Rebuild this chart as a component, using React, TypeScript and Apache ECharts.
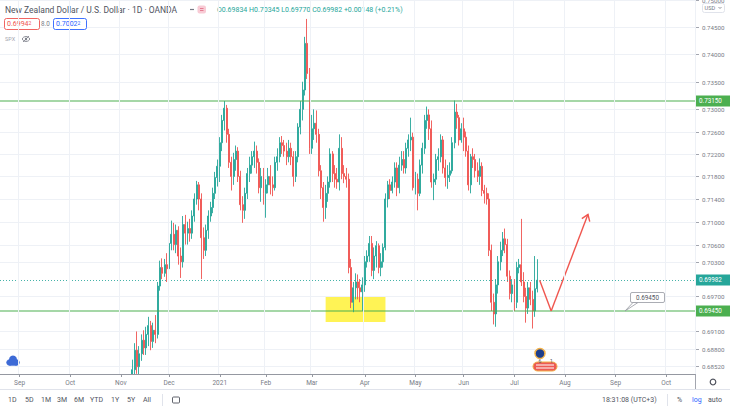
import React, { useEffect, useRef } from "react";
import * as echarts from "echarts";

const FONT = 'Roboto, "Noto Sans", "DejaVu Sans", sans-serif';
const UP = "#26a69a";
const DOWN = "#ef5350";
const LEVEL_GREEN = "#4caf50";
const AXIS_TEXT = "#787b86";
const DARK_TEXT = "#50535e";

// ---- time axis (daily bars, weekends and market holidays skipped) ----
const AXIS_FIRST_DAY = "2020-08-20";
const AXIS_LAST_DAY = "2021-10-19";
const MARKET_HOLIDAYS = ["2020-12-25", "2021-01-01"];
const MONTH_NAMES = ["Jan", "Feb", "Mar", "Apr", "May", "Jun", "Jul", "Aug", "Sep", "Oct", "Nov", "Dec"];

// ---- NZD/USD daily candles: [open, close, low, high], first bar on FIRST_CANDLE_DAY ----
const FIRST_CANDLE_DAY = "2020-11-04";
const candleOHLC: number[][] = [
  // Nov 2020
  [0.6640, 0.6720, 0.6620, 0.6745], [0.6720, 0.6760, 0.6700, 0.6790], [0.6760, 0.6772, 0.6745, 0.6800],
  [0.6772, 0.6845, 0.6760, 0.6862], [0.6845, 0.6878, 0.6825, 0.6890], [0.6878, 0.6850, 0.6838, 0.6910],
  [0.6850, 0.6872, 0.6835, 0.6885], [0.6872, 0.6895, 0.6860, 0.6905], [0.6895, 0.6882, 0.6870, 0.6912],
  [0.6882, 0.6905, 0.6870, 0.6918], [0.6905, 0.6920, 0.6885, 0.6935], [0.6920, 0.6893, 0.6878, 0.6928],
  [0.6893, 0.6912, 0.6882, 0.6925], [0.6912, 0.6905, 0.6890, 0.6938], [0.6905, 0.6988, 0.6898, 0.6995],
  [0.6988, 0.7020, 0.6980, 0.7032], [0.7020, 0.7010, 0.7000, 0.7036], [0.7010, 0.7025, 0.7004, 0.7035],
  [0.7025, 0.7018, 0.6995, 0.7045],
  // Dec 2020
  [0.7018, 0.7062, 0.7012, 0.7070], [0.7062, 0.7078, 0.7050, 0.7102], [0.7078, 0.7060, 0.7050, 0.7098],
  [0.7060, 0.7085, 0.7045, 0.7095], [0.7085, 0.7040, 0.7025, 0.7092], [0.7040, 0.7030, 0.7002, 0.7055],
  [0.7030, 0.7095, 0.7020, 0.7110], [0.7095, 0.7080, 0.7060, 0.7112], [0.7080, 0.7088, 0.7060, 0.7100],
  [0.7088, 0.7080, 0.7065, 0.7105], [0.7080, 0.7110, 0.7070, 0.7120], [0.7110, 0.7140, 0.7100, 0.7150],
  [0.7140, 0.7165, 0.7130, 0.7172], [0.7165, 0.7140, 0.7120, 0.7170], [0.7140, 0.7072, 0.7000, 0.7150],
  [0.7072, 0.7050, 0.7035, 0.7090], [0.7050, 0.7085, 0.7040, 0.7095], [0.7085, 0.7110, 0.7070, 0.7120],
  [0.7110, 0.7125, 0.7100, 0.7135], [0.7125, 0.7150, 0.7115, 0.7160], [0.7150, 0.7178, 0.7140, 0.7188],
  [0.7178, 0.7198, 0.7162, 0.7210],
  // Jan 2021
  [0.7198, 0.7240, 0.7170, 0.7250], [0.7240, 0.7280, 0.7225, 0.7290], [0.7280, 0.7302, 0.7262, 0.7315],
  [0.7302, 0.7255, 0.7240, 0.7308], [0.7255, 0.7205, 0.7195, 0.7265], [0.7205, 0.7180, 0.7155, 0.7215],
  [0.7180, 0.7210, 0.7165, 0.7222], [0.7210, 0.7225, 0.7190, 0.7235], [0.7225, 0.7180, 0.7170, 0.7232],
  [0.7180, 0.7130, 0.7120, 0.7190], [0.7130, 0.7120, 0.7098, 0.7145], [0.7120, 0.7150, 0.7105, 0.7160],
  [0.7150, 0.7185, 0.7140, 0.7195], [0.7185, 0.7200, 0.7170, 0.7215], [0.7200, 0.7215, 0.7185, 0.7225],
  [0.7215, 0.7225, 0.7195, 0.7242], [0.7225, 0.7205, 0.7185, 0.7235], [0.7205, 0.7160, 0.7150, 0.7212],
  [0.7160, 0.7180, 0.7135, 0.7195], [0.7180, 0.7150, 0.7130, 0.7195],
  // Feb 2021
  [0.7150, 0.7165, 0.7107, 0.7175], [0.7165, 0.7180, 0.7150, 0.7195], [0.7180, 0.7165, 0.7148, 0.7200],
  [0.7165, 0.7160, 0.7145, 0.7180], [0.7160, 0.7205, 0.7155, 0.7215], [0.7205, 0.7215, 0.7190, 0.7230],
  [0.7215, 0.7240, 0.7205, 0.7250], [0.7240, 0.7235, 0.7220, 0.7252], [0.7235, 0.7225, 0.7215, 0.7245],
  [0.7225, 0.7215, 0.7200, 0.7240], [0.7215, 0.7230, 0.7205, 0.7245], [0.7230, 0.7215, 0.7200, 0.7240],
  [0.7215, 0.7180, 0.7162, 0.7225], [0.7180, 0.7215, 0.7170, 0.7225], [0.7215, 0.7268, 0.7205, 0.7275],
  [0.7268, 0.7300, 0.7255, 0.7315], [0.7300, 0.7335, 0.7280, 0.7350], [0.7335, 0.7420, 0.7325, 0.7432],
  [0.7420, 0.7365, 0.7355, 0.7465], [0.7365, 0.7230, 0.7220, 0.7375],
  // Mar 2021
  [0.7230, 0.7265, 0.7220, 0.7290], [0.7265, 0.7275, 0.7245, 0.7300], [0.7275, 0.7255, 0.7240, 0.7298],
  [0.7255, 0.7190, 0.7180, 0.7265], [0.7190, 0.7160, 0.7140, 0.7200], [0.7160, 0.7125, 0.7100, 0.7170],
  [0.7125, 0.7150, 0.7105, 0.7165], [0.7150, 0.7170, 0.7135, 0.7180], [0.7170, 0.7220, 0.7160, 0.7230],
  [0.7220, 0.7185, 0.7170, 0.7225], [0.7185, 0.7175, 0.7160, 0.7200], [0.7175, 0.7170, 0.7158, 0.7195],
  [0.7170, 0.7230, 0.7155, 0.7255], [0.7230, 0.7185, 0.7175, 0.7250], [0.7185, 0.7180, 0.7168, 0.7200],
  [0.7180, 0.7175, 0.7160, 0.7195], [0.7175, 0.7020, 0.7010, 0.7185], [0.7020, 0.6960, 0.6950, 0.7035],
  [0.6960, 0.6985, 0.6943, 0.6995], [0.6985, 0.6995, 0.6965, 0.7010], [0.6995, 0.6985, 0.6965, 0.7008],
  [0.6985, 0.6978, 0.6960, 0.7000], [0.6978, 0.6990, 0.6945, 0.7003],
  // Apr 2021
  [0.6990, 0.7030, 0.6978, 0.7040], [0.7030, 0.7040, 0.7020, 0.7050], [0.7040, 0.7062, 0.7030, 0.7075],
  [0.7062, 0.7015, 0.7005, 0.7075], [0.7015, 0.7040, 0.7000, 0.7055], [0.7040, 0.7058, 0.7020, 0.7066],
  [0.7058, 0.7020, 0.7010, 0.7062], [0.7020, 0.7030, 0.7005, 0.7045], [0.7030, 0.7055, 0.7020, 0.7062],
  [0.7055, 0.7140, 0.7050, 0.7150], [0.7140, 0.7165, 0.7125, 0.7172], [0.7165, 0.7155, 0.7140, 0.7175],
  [0.7155, 0.7170, 0.7150, 0.7180], [0.7170, 0.7195, 0.7160, 0.7205], [0.7195, 0.7160, 0.7145, 0.7205],
  [0.7160, 0.7200, 0.7150, 0.7215], [0.7200, 0.7210, 0.7190, 0.7225], [0.7210, 0.7195, 0.7185, 0.7225],
  [0.7195, 0.7230, 0.7185, 0.7240], [0.7230, 0.7245, 0.7215, 0.7255], [0.7245, 0.7250, 0.7225, 0.7285],
  [0.7250, 0.7160, 0.7155, 0.7258],
  // May 2021
  [0.7160, 0.7175, 0.7148, 0.7188], [0.7175, 0.7150, 0.7120, 0.7185], [0.7150, 0.7200, 0.7145, 0.7210],
  [0.7200, 0.7230, 0.7185, 0.7240], [0.7230, 0.7280, 0.7220, 0.7290], [0.7280, 0.7290, 0.7265, 0.7305],
  [0.7290, 0.7265, 0.7245, 0.7300], [0.7265, 0.7170, 0.7160, 0.7280], [0.7170, 0.7175, 0.7138, 0.7185],
  [0.7175, 0.7210, 0.7165, 0.7220], [0.7210, 0.7215, 0.7190, 0.7230], [0.7215, 0.7245, 0.7205, 0.7255],
  [0.7245, 0.7195, 0.7185, 0.7252], [0.7195, 0.7178, 0.7162, 0.7210], [0.7178, 0.7182, 0.7158, 0.7200],
  [0.7182, 0.7190, 0.7170, 0.7205], [0.7190, 0.7240, 0.7185, 0.7250], [0.7240, 0.7295, 0.7230, 0.7316],
  [0.7295, 0.7285, 0.7265, 0.7310], [0.7285, 0.7245, 0.7235, 0.7290], [0.7245, 0.7265, 0.7240, 0.7275],
  // Jun 2021
  [0.7265, 0.7250, 0.7225, 0.7285], [0.7250, 0.7225, 0.7215, 0.7260], [0.7225, 0.7165, 0.7155, 0.7235],
  [0.7165, 0.7215, 0.7150, 0.7220], [0.7215, 0.7210, 0.7195, 0.7230], [0.7210, 0.7190, 0.7178, 0.7220],
  [0.7190, 0.7180, 0.7170, 0.7205], [0.7180, 0.7198, 0.7165, 0.7212], [0.7198, 0.7155, 0.7145, 0.7205],
  [0.7155, 0.7150, 0.7132, 0.7165], [0.7150, 0.7140, 0.7130, 0.7160], [0.7140, 0.7050, 0.7040, 0.7150],
  [0.7050, 0.6960, 0.6945, 0.7060], [0.6960, 0.6940, 0.6922, 0.6975], [0.6940, 0.6990, 0.6918, 0.7000],
  [0.6990, 0.7030, 0.6975, 0.7040], [0.7030, 0.7050, 0.7015, 0.7065], [0.7050, 0.7070, 0.7040, 0.7082],
  [0.7070, 0.7060, 0.7045, 0.7088], [0.7060, 0.7005, 0.6995, 0.7070], [0.7005, 0.6975, 0.6965, 0.7015],
  [0.6975, 0.6990, 0.6960, 0.7000],
  // Jul 2021
  [0.6990, 0.6960, 0.6945, 0.7000], [0.6960, 0.7020, 0.6950, 0.7030], [0.7020, 0.7025, 0.7010, 0.7035],
  [0.7025, 0.6995, 0.6988, 0.7105], [0.6995, 0.6970, 0.6960, 0.7012], [0.6970, 0.6950, 0.6925, 0.6985],
  [0.6950, 0.6985, 0.6940, 0.6995], [0.6985, 0.6965, 0.6955, 0.6995], [0.6965, 0.6945, 0.6915, 0.6980],
  [0.6945, 0.69834, 0.6935, 0.7040], [0.69834, 0.69982, 0.6977, 0.70345],
];

// ---- price scale ----
const PRICE_MIN = 0.68377;
const PRICE_MAX = 0.75;
const PRICE_TICKS = [0.75, 0.745, 0.74, 0.735, 0.73, 0.726, 0.722, 0.718, 0.714, 0.71, 0.706, 0.703, 0.697, 0.691, 0.688, 0.6852];
const KEY_LEVELS = [0.7315, 0.6945];
const LAST_PRICE = 0.69982;

// ---- drawings ----
const ZONE_DAYS = ["2021-03-09", "2021-04-14"];
const ZONE_PRICES = [0.6971, 0.6926];
const ARROW_DAYS = ["2021-07-16", "2021-07-23", "2021-08-16"];
const ARROW_PRICES = [0.6998, 0.6945, 0.7113];
const CALLOUT_DAY = "2021-09-07";
const CALLOUT_PRICE = 0.6945;

// ---- texts ----
const TITLE = "New Zealand Dollar / U.S. Dollar · 1D · OANDA";
const HEADER_OHLC = "O0.69834 H0.70345 L0.69770 C0.69982 +0.00148 (+0.21%)";
const BID = ["0.6994", "2"];
const SPREAD = "8.0";
const ASK = ["0.7002", "2"];
const RANGE_BUTTONS = ["1D", "5D", "1M", "3M", "6M", "YTD", "1Y", "5Y", "All"];
const RANGE_X = [8, 25, 41, 57, 74, 90, 111, 127, 143];
const CLOCK = "18:31:08 (UTC+3)";

function buildTradingDays(): string[] {
  const out: string[] = [];
  const [y0, m0, d0] = AXIS_FIRST_DAY.split("-").map(Number);
  const d = new Date(Date.UTC(y0, m0 - 1, d0));
  const [y1, m1, d1] = AXIS_LAST_DAY.split("-").map(Number);
  const end = Date.UTC(y1, m1 - 1, d1);
  while (d.getTime() <= end) {
    const wd = d.getUTCDay();
    const s = d.toISOString().slice(0, 10);
    if (wd !== 0 && wd !== 6 && MARKET_HOLIDAYS.indexOf(s) < 0) out.push(s);
    d.setUTCDate(d.getUTCDate() + 1);
  }
  return out;
}

const crisp = (v: number) => Math.round(v) + 0.5;

function txt(x: number, y: number, text: string, fill: string, size: number, extra: any = {}) {
  return {
    type: "text",
    x,
    y,
    z: 16,
    silent: true,
    style: { text, fill, fontSize: size, fontFamily: FONT, verticalAlign: "middle", align: "left", ...extra },
  };
}

function el(type: string, shape: any, style: any) {
  return { type, shape, style, z: 16, silent: true };
}

function buildOption() {
  const days = buildTradingDays();
  const firstIdx = days.indexOf(FIRST_CANDLE_DAY);
  const candleData = candleOHLC.map((v, k) => [firstIdx + k, v[0], v[1], v[2], v[3]]);
  const monthStart = new Set<number>();
  days.forEach((d, i) => {
    if (i > 0 && d.slice(0, 7) !== days[i - 1].slice(0, 7)) monthStart.add(i);
  });
  const isMonthStart = (i: number) => monthStart.has(i);
  const monthLabel = (d: string) => {
    const m = +d.slice(5, 7);
    return m === 1 ? d.slice(0, 4) : MONTH_NAMES[m - 1];
  };

  const priceScaleSeries = {
    type: "custom",
    name: "priceScale",
    silent: true,
    z: 1,
    data: PRICE_TICKS.map((p) => [0, p]),
    encode: { x: 0, y: 1 },
    renderItem: (params: any, api: any) => {
      const cs = params.coordSys;
      const p = api.value(1) as number;
      const y = crisp(api.coord([0, p])[1]);
      const right = cs.x + cs.width;
      return {
        type: "group",
        children: [
          { type: "line", shape: { x1: cs.x, y1: y, x2: right, y2: y }, style: { stroke: "#eef1f6", lineWidth: 1 } },
          { type: "line", shape: { x1: right, y1: y, x2: right + 4, y2: y }, style: { stroke: "#a3a6af", lineWidth: 1 } },
          {
            type: "text",
            x: right + 7,
            y,
            style: { text: p.toFixed(5), fill: AXIS_TEXT, fontSize: 6.2, fontFamily: FONT, verticalAlign: "middle", align: "left" },
          },
        ],
      };
    },
  };

  // horizontal level across the pane plus its coloured badge on the price scale
  const levelLine = (color: string, dashed: boolean) => (params: any, api: any) => {
    const cs = params.coordSys;
    const p = api.value(1) as number;
    const yRaw = api.coord([0, p])[1];
    const y = dashed ? crisp(yRaw) : Math.round(yRaw);
    const right = cs.x + cs.width;
    const lineStyle: any = dashed
      ? { stroke: color, lineWidth: 1, lineDash: [1, 2], opacity: 0.85 }
      : { stroke: color, lineWidth: 1.2 };
    return {
      type: "group",
      children: [
        { type: "line", shape: { x1: cs.x, y1: y, x2: right, y2: y }, style: lineStyle },
        { type: "rect", shape: { x: right + 1, y: Math.round(yRaw) - 5.5, width: 34, height: 11 }, style: { fill: color } },
        {
          type: "text",
          x: right + 4,
          y: Math.round(yRaw),
          style: { text: p.toFixed(5), fill: "#ffffff", fontSize: 6.3, fontFamily: FONT, verticalAlign: "middle", align: "left" },
        },
      ],
    };
  };

  const arrowSeries = {
    type: "custom",
    name: "arrow",
    silent: true,
    z: 5,
    data: ARROW_DAYS.map((d, i) => [days.indexOf(d), ARROW_PRICES[i]]),
    encode: { x: 0, y: 1 },
    renderItem: (params: any, api: any) => {
      const i = params.dataIndex;
      if (i === 0) return null;
      const p1 = api.coord([days.indexOf(ARROW_DAYS[i - 1]), ARROW_PRICES[i - 1]]);
      const p2 = api.coord([api.value(0), api.value(1)]);
      const children: any[] = [
        { type: "line", shape: { x1: p1[0], y1: p1[1], x2: p2[0], y2: p2[1] }, style: { stroke: "#f0564f", lineWidth: 1.4 } },
      ];
      if (i === ARROW_DAYS.length - 1) {
        const dx = p2[0] - p1[0];
        const dy = p2[1] - p1[1];
        const len = Math.sqrt(dx * dx + dy * dy);
        const ux = -dx / len;
        const uy = -dy / len;
        const arm = (ang: number) => {
          const c = Math.cos(ang);
          const s = Math.sin(ang);
          return [p2[0] + 7.5 * (ux * c - uy * s), p2[1] + 7.5 * (ux * s + uy * c)];
        };
        children.push({
          type: "polyline",
          shape: { points: [arm(0.6), [p2[0], p2[1]], arm(-0.6)] },
          style: { stroke: "#f0564f", lineWidth: 1.4, fill: "none" },
        });
      }
      return { type: "group", children };
    },
  };

  const calloutSeries = {
    type: "custom",
    name: "callout",
    silent: true,
    z: 5,
    data: [[days.indexOf(CALLOUT_DAY), CALLOUT_PRICE]],
    encode: { x: 0, y: 1 },
    renderItem: (params: any, api: any) => {
      const pt = api.coord([api.value(0), api.value(1)]);
      const x = Math.round(pt[0]);
      const y = Math.round(pt[1]);
      return {
        type: "group",
        children: [
          {
            type: "polygon",
            shape: { points: [[x, y], [x + 8, y - 8.5], [x + 13, y - 8.5]] },
            style: { fill: "#ffffff", stroke: "#9598a1", lineWidth: 0.8 },
          },
          {
            type: "rect",
            shape: { x: x + 5.5, y: y - 18.5, width: 34, height: 10, r: 1.5 },
            style: { fill: "#ffffff", stroke: "#9598a1", lineWidth: 0.8 },
          },
          {
            type: "text",
            x: x + 22.5,
            y: y - 13.5,
            style: {
              text: CALLOUT_PRICE.toFixed(5),
              fill: DARK_TEXT,
              fontSize: 6.3,
              fontFamily: FONT,
              verticalAlign: "middle",
              align: "center",
            },
          },
        ],
      };
    },
  };

  const graphic: any[] = [
    // mask under the time axis so the price pane is cut at its bottom edge
    { type: "rect", z: 15, silent: true, shape: { x: 0, y: 374.5, width: 695, height: 36 }, style: { fill: "#ffffff" } },
    // header
    txt(5, 9.5, TITLE, DARK_TEXT, 8.5),
    el("line", { x1: 190, y1: 9.5, x2: 194, y2: 9.5 }, { stroke: AXIS_TEXT, lineWidth: 1.2 }),
    el("rect", { x: 197.5, y: 5.5, width: 8.5, height: 8, r: 2 }, { fill: "#f8cbd5" }),
    el("rect", { x: 200, y: 8, width: 3.5, height: 0.8 }, { fill: "#e06a83" }),
    el("rect", { x: 200, y: 10.2, width: 3.5, height: 0.8 }, { fill: "#e06a83" }),
    txt(217, 9.5, HEADER_OHLC, UP, 7),
    // bid / spread / ask
    el("rect", { x: 4.5, y: 18.5, width: 35, height: 11, r: 2 }, { fill: "#fff", stroke: DOWN, lineWidth: 0.9 }),
    {
      type: "text",
      x: 7,
      y: 24,
      z: 16,
      silent: true,
      style: {
        text: `{a|${BID[0]}}{b|${BID[1]}}`,
        fontFamily: FONT,
        verticalAlign: "middle",
        rich: { a: { fontSize: 7, fill: DOWN, fontFamily: FONT }, b: { fontSize: 5, fill: DOWN, fontFamily: FONT, padding: [0, 0, 3, 0] } },
      },
    },
    txt(41, 24, SPREAD, AXIS_TEXT, 6.3),
    el("rect", { x: 53.5, y: 18.5, width: 33, height: 11, r: 2 }, { fill: "#fff", stroke: "#2962ff", lineWidth: 0.9 }),
    {
      type: "text",
      x: 56,
      y: 24,
      z: 16,
      silent: true,
      style: {
        text: `{a|${ASK[0]}}{b|${ASK[1]}}`,
        fontFamily: FONT,
        verticalAlign: "middle",
        rich: { a: { fontSize: 7, fill: "#2962ff", fontFamily: FONT }, b: { fontSize: 5, fill: "#2962ff", fontFamily: FONT, padding: [0, 0, 3, 0] } },
      },
    },
    txt(5, 39, "SPX", "#a3a6af", 5.5),
    el("ellipse", { cx: 26, cy: 39, rx: 3.6, ry: 2.4 }, { fill: "none", stroke: AXIS_TEXT, lineWidth: 0.9 }),
    el("circle", { cx: 26, cy: 39, r: 1.2 }, { fill: AXIS_TEXT }),
    el("line", { x1: 23, y1: 42, x2: 29, y2: 36 }, { stroke: AXIS_TEXT, lineWidth: 0.8 }),
    // currency selector
    el("rect", { x: 702.5, y: 3.5, width: 22, height: 9, r: 2 }, { fill: "#fff", stroke: "#e0e3eb", lineWidth: 1 }),
    txt(704.5, 8, "USD", AXIS_TEXT, 5.6),
    el("polyline", { points: [[718.5, 7], [720, 8.5], [721.5, 7]] }, { stroke: AXIS_TEXT, lineWidth: 0.8, fill: "none" }),
    // logo cloud icon
    el("circle", { cx: 9.5, cy: 362.5, r: 3.2 }, { fill: "#3d6ad6" }),
    el("circle", { cx: 13, cy: 359.5, r: 4 }, { fill: "#3d6ad6" }),
    el("circle", { cx: 16.5, cy: 362.5, r: 3.2 }, { fill: "#3d6ad6" }),
    el("rect", { x: 9.5, y: 361, width: 7, height: 4.7 }, { fill: "#3d6ad6" }),
    // event flags
    el("circle", { cx: 540, cy: 353.5, r: 5 }, { fill: "#1f3f8c", stroke: "#f2b24a", lineWidth: 1.5 }),
    el("rect", { x: 533, y: 362, width: 24, height: 9, r: 4.5 }, { fill: "#ec5a55", stroke: "#f2b24a", lineWidth: 1 }),
    el("rect", { x: 536, y: 364.5, width: 18, height: 1 }, { fill: "#ffffff" }),
    el("rect", { x: 536, y: 367.5, width: 18, height: 1 }, { fill: "#ffffff" }),
    txt(538.5, 361, "6", DARK_TEXT, 5),
    txt(550, 361, "1", DARK_TEXT, 5),
    // axis-area separators
    el("line", { x1: 695.5, y1: 374, x2: 695.5, y2: 389.5 }, { stroke: "#a3a6af", lineWidth: 1 }),
    el("line", { x1: 0, y1: 389.5, x2: 730, y2: 389.5 }, { stroke: "#e0e3eb", lineWidth: 1 }),
    el("circle", { cx: 713, cy: 382, r: 2.8 }, { fill: "none", stroke: DARK_TEXT, lineWidth: 1.2 }),
    // bottom toolbar
    ...RANGE_BUTTONS.map((b, i) => txt(RANGE_X[i], 400, b, DARK_TEXT, 7)),
    el("line", { x1: 162.5, y1: 394, x2: 162.5, y2: 406 }, { stroke: "#e0e3eb", lineWidth: 1 }),
    el("rect", { x: 172.5, y: 397, width: 7, height: 6, r: 1 }, { fill: "none", stroke: DARK_TEXT, lineWidth: 0.9 }),
    txt(602, 400, CLOCK, DARK_TEXT, 7),
    el("line", { x1: 667.5, y1: 394, x2: 667.5, y2: 406 }, { stroke: "#e0e3eb", lineWidth: 1 }),
    txt(677, 400, "%", DARK_TEXT, 7),
    txt(692, 400, "log", "#2962ff", 7),
    txt(708, 400, "auto", DARK_TEXT, 7),
  ];

  return {
    animation: false,
    backgroundColor: "#ffffff",
    textStyle: { fontFamily: FONT },
    grid: { left: 0, right: 35, top: 0, bottom: 36 },
    xAxis: {
      type: "category",
      data: days,
      boundaryGap: true,
      z: 20,
      axisLine: { lineStyle: { color: "#9598a1", width: 1 } },
      axisTick: { show: true, alignWithLabel: true, interval: (i: number) => isMonthStart(i), length: 3, lineStyle: { color: "#9598a1" } },
      axisLabel: {
        interval: (i: number) => isMonthStart(i),
        formatter: (v: string) => monthLabel(v),
        color: AXIS_TEXT,
        fontSize: 6.5,
        fontFamily: FONT,
        margin: 5,
      },
      splitLine: { show: true, interval: (i: number) => isMonthStart(i), lineStyle: { color: "#eef1f6", width: 1 } },
    },
    yAxis: {
      type: "log",
      logBase: 10,
      min: PRICE_MIN,
      max: PRICE_MAX,
      position: "right",
      axisLine: { show: true, lineStyle: { color: "#a3a6af" } },
      axisTick: { show: false },
      axisLabel: { show: false },
      splitLine: { show: false },
    },
    graphic,
    series: [
      priceScaleSeries,
      {
        type: "candlestick",
        name: "NZDUSD",
        z: 2,
        barWidth: 1.5,
        clip: true,
        data: candleData,
        encode: { x: 0, y: [1, 2, 3, 4] },
        itemStyle: { color: UP, color0: DOWN, borderColor: UP, borderColor0: DOWN, borderWidth: 0.9 },
        markArea: {
          silent: true,
          itemStyle: { color: "rgba(255, 238, 20, 0.72)" },
          data: [[{ xAxis: ZONE_DAYS[0], yAxis: ZONE_PRICES[0] }, { xAxis: ZONE_DAYS[1], yAxis: ZONE_PRICES[1] }]],
        },
      },
      {
        type: "custom",
        name: "keyLevels",
        silent: true,
        z: 3,
        data: KEY_LEVELS.map((p) => [0, p]),
        encode: { x: 0, y: 1 },
        renderItem: levelLine(LEVEL_GREEN, false),
      },
      {
        type: "custom",
        name: "lastPrice",
        silent: true,
        z: 3,
        data: [[0, LAST_PRICE]],
        encode: { x: 0, y: 1 },
        renderItem: levelLine(UP, true),
      },
      arrowSeries,
      calloutSeries,
    ],
  };
}

export default function App() {
  const ref = useRef<HTMLDivElement>(null);
  useEffect(() => {
    document.body.style.margin = "0";
    const chart = echarts.init(ref.current as HTMLDivElement, undefined, { renderer: "svg" });
    chart.setOption(buildOption() as any);
    return () => chart.dispose();
  }, []);
  return <div ref={ref} style={{ width: 730, height: 410, background: "#ffffff" }} />;
}
